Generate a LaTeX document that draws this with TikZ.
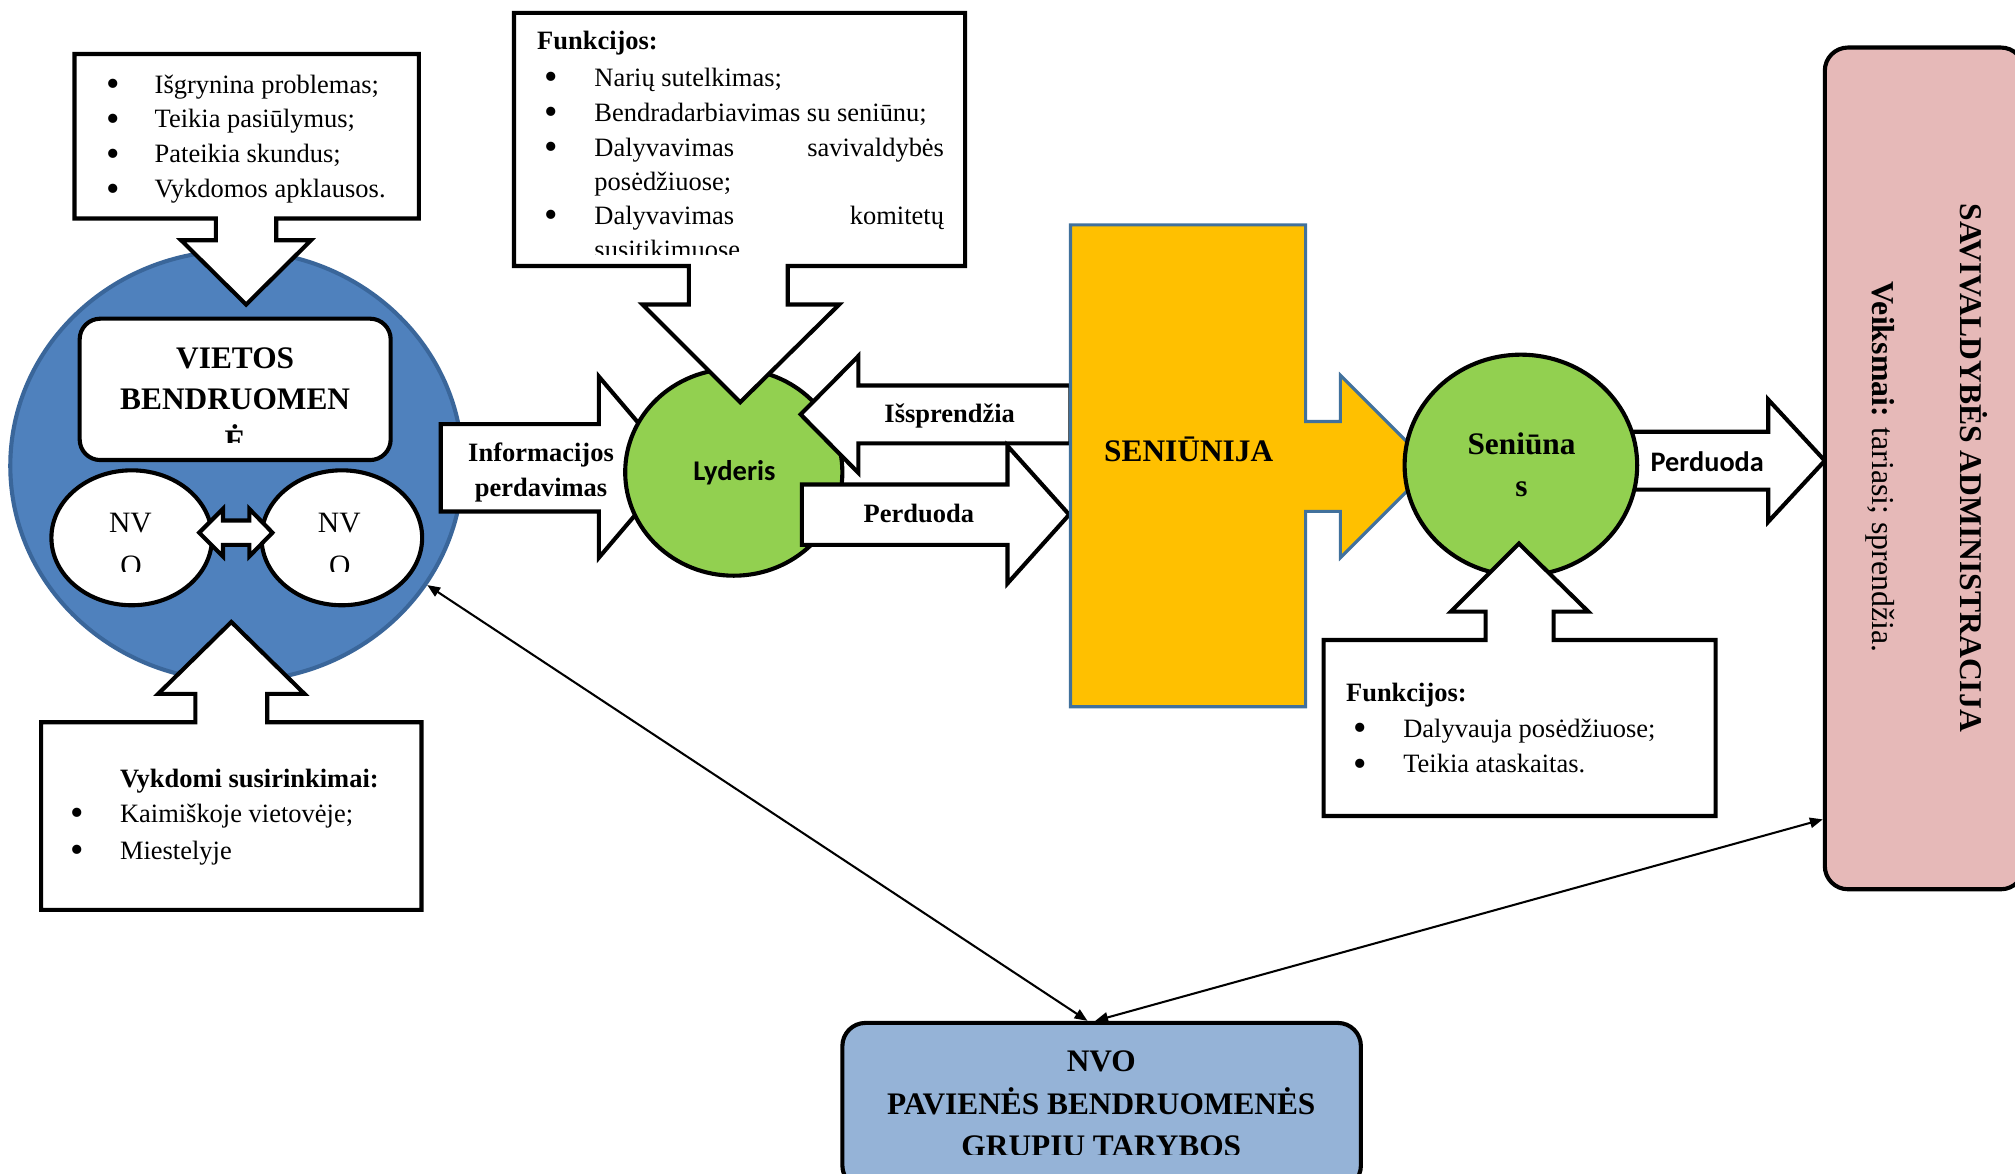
\documentclass[tikz,border=0pt]{standalone}
\usepackage{graphicx}
\usepackage{fontspec}
\setmainfont{Liberation Serif}
\newfontfamily\calib{Carlito}
\usetikzlibrary{shapes.geometric, arrows.meta, calc}
\definecolor{cblue}{HTML}{4F81BD}
\definecolor{cblueb}{HTML}{3A669A}
\definecolor{cgreen}{HTML}{92D050}
\definecolor{corange}{HTML}{FFC000}
\definecolor{corangeb}{HTML}{41719C}
\definecolor{cpink}{HTML}{E6B9B8}
\definecolor{cnvo}{HTML}{95B3D7}
\newcommand{\mybul}{\raisebox{-1.3pt}{\scalebox{1.45}{\textbullet}}}
\tikzset{
  blk/.style={draw=black, line width=1.6pt, fill=white, line join=miter, miter limit=10},
  tx/.style={inner sep=0pt, outer sep=0pt},
  body/.style={tx, font=\fontsize{10.3}{12}\selectfont},
  bbody/.style={tx, font=\fontsize{10.3}{12}\selectfont\bfseries},
  head/.style={tx, font=\fontsize{12.2}{14}\selectfont\bfseries},
  nvt/.style={tx, font=\fontsize{11.5}{13}\selectfont},
  sans/.style={tx, font=\calib\fontsize{11.1}{13}\selectfont\bfseries},
  oval/.style={ellipse, inner sep=0pt},
  conn/.style={line width=0.8pt, {Triangle[length=5pt,width=4pt]}-{Triangle[length=5pt,width=4pt]}},
}
\begin{document}
\begin{tikzpicture}[x=0.5pt, y=-0.5pt]
\useasboundingbox (0,0) rectangle (1568,913);
\clip (0,0) rectangle (1568,913);

% ---- Vietos bendruomene circle
\node[oval, fill=cblue, draw=cblueb, line width=1.6pt, minimum width=176pt, minimum height=167.5pt] (vb) at (184,362.5) {};
\node[blk, rounded corners=8pt, minimum width=121pt, minimum height=55pt, inner sep=0pt] (vbt) at (183,303) {};
\node[head, anchor=base] (vbt1) at (183,287) {VIETOS};
\node[head, anchor=base] (vbt2) at (183,319) {BENDRUOMEN};
\begin{scope}
  \clip (62,248) rectangle (304,344);
  \node[head, anchor=base] (vbt3) at (183,351) {Ė};
\end{scope}

% ---- NVO ellipses
\node[oval, blk, minimum width=62.5pt, minimum height=52.5pt] (nvoa) at (102.5,418.5) {};
\node[oval, blk, minimum width=62.5pt, minimum height=52.5pt] (nvob) at (266,418.5) {};
\node[nvt, anchor=base] (nvoa1) at (101.5,414) {NV};
\node[nvt, anchor=base] (nvob1) at (264,414) {NV};
\begin{scope}
  \clip (40,366) rectangle (330,445);
  \node[nvt, anchor=base] (nvoa2) at (102,448) {O};
  \node[nvt, anchor=base] (nvob2) at (264.5,448) {O};
\end{scope}
\draw[blk] (155,414.5) -- (173.5,396) -- (173.5,405) -- (194,405) -- (194,396) -- (212,414.5)
  -- (194,433) -- (194,424) -- (173.5,424) -- (173.5,433) -- cycle;

% ---- top-left callout
\draw[blk] (58,42) -- (326,42) -- (326,170) -- (215,170) -- (215,187) -- (242,187) -- (191.5,237)
  -- (141,187) -- (168,187) -- (168,170) -- (58,170) -- cycle;
\foreach \yy/\tt [count=\i] in {72.4/{Išgrynina problemas;}, 99.6/{Teikia pasiūlymus;}, 126.8/{Pateikia skundus;}, 154/{Vykdomos apklausos.}}{
  \node[body, anchor=base] (tlb\i) at (88,\yy) {\mybul};
  \node[body, anchor=base west] (tlt\i) at (120.4,\yy) {\tt};
}

% ---- bottom-left callout
\draw[blk] (32,562) -- (152,562) -- (152,540) -- (123,540) -- (180,484) -- (237,540) -- (208,540)
  -- (208,562) -- (328,562) -- (328,708) -- (32,708) -- cycle;
\node[bbody, anchor=base west] (blh) at (93.4,612.7) {Vykdomi susirinkimai:};
\node[body, anchor=base] (blb1) at (60,640) {\mybul};
\node[body, anchor=base west] (blt1) at (93.4,640) {Kaimiškoje vietovėje;};
\node[body, anchor=base] (blb2) at (60,668.6) {\mybul};
\node[body, anchor=base west] (blt2) at (93.4,668.6) {Miestelyje};

% ---- Informacijos perdavimas arrow
\draw[blk] (343,330) -- (466,330) -- (466,293) -- (526,363.5) -- (466,434) -- (466,398) -- (343,398) -- cycle;
\node[bbody, anchor=base] (ia1) at (421,359) {Informacijos};
\node[bbody, anchor=base] (ia2) at (421,386) {perdavimas};

% ---- Lyderis
\node[oval, draw=black, line width=1.6pt, fill=cgreen, minimum width=84.5pt, minimum height=80.5pt] (lyd) at (571,367.5) {};
\node[sans, anchor=base] (lydt) at (571.5,374) {Lyderis};

% ---- top-middle callout
\draw[blk] (400,10) -- (751,10) -- (751,207) -- (613,207) -- (613,237) -- (653,237) -- (576,313)
  -- (500,237) -- (536,237) -- (536,207) -- (400,207) -- cycle;
\node[bbody, anchor=base west] (tmh) at (418,38.7) {Funkcijos:};
\node[body, anchor=base] (tmb1) at (429,67) {\mybul};
\node[body, anchor=base west] (tmt1) at (462.6,67) {Narių sutelkimas;};
\node[body, anchor=base] (tmb2) at (429,94.5) {\mybul};
\node[body, anchor=base west] (tmt2) at (462.6,94.5) {Bendradarbiavimas su seniūnu;};
\node[body, anchor=base] (tmb3) at (429,121.5) {\mybul};
\node[body, anchor=base west] (tmt3a) at (462.6,121.5) {Dalyvavimas};
\node[body, anchor=base east] (tmt3b) at (734.6,121.5) {savivaldybės};
\node[body, anchor=base west] (tmt3c) at (462.6,148) {posėdžiuose;};
\node[body, anchor=base] (tmb4) at (429,174.5) {\mybul};
\node[body, anchor=base west] (tmt4a) at (462.6,174.5) {Dalyvavimas};
\node[body, anchor=base east] (tmt4b) at (734.6,174.5) {komitetų};
\begin{scope}
  \clip (400,180) rectangle (751,198);
  \node[body, anchor=base west] (tmt4c) at (462.6,201) {susitikimuose};
\end{scope}

% ---- Issprendzia / Perduoda
\draw[blk] (623,322.5) -- (668,277) -- (668,300) -- (833,300) -- (833,345) -- (668,345) -- (668,368) -- cycle;
\node[bbody, anchor=base] (ispt) at (739,329) {Išsprendžia};
\draw[blk] (624,377) -- (784,377) -- (784,347) -- (832,400.5) -- (784,454) -- (784,424) -- (624,424) -- cycle;
\node[bbody, anchor=base] (perdt) at (715,406.5) {Perduoda};

% ---- SENIUNIJA
\draw[fill=corange, draw=corangeb, line width=1.2pt, line join=miter] (833,175) -- (1016,175) -- (1016,328)
  -- (1043,328) -- (1043,292) -- (1114,363) -- (1043,434) -- (1043,398) -- (1016,398) -- (1016,550) -- (833,550) -- cycle;
\node[head, anchor=base] (sent) at (925,359) {SENIŪNIJA};

% ---- Perduoda right arrow
\draw[blk] (1265,336) -- (1376,336) -- (1376,311) -- (1420,358.5) -- (1376,406) -- (1376,381) -- (1265,381) -- cycle;
\node[sans, font=\calib\fontsize{11}{13}\selectfont\bfseries, anchor=base] (prt) at (1328.5,367) {Perduoda};

% ---- Seniunas
\node[oval, draw=black, line width=1.6pt, fill=cgreen, minimum width=90.5pt, minimum height=86pt] (snn) at (1183.5,362) {};
\node[head, anchor=base] (snn1) at (1184,354) {Seniūna};
\node[head, anchor=base] (snn2) at (1184,386.5) {s};

% ---- bottom-right callout
\draw[blk] (1030,498) -- (1156,498) -- (1156,476) -- (1129,476) -- (1182,423) -- (1236,476) -- (1209,476)
  -- (1209,498) -- (1335,498) -- (1335,635) -- (1030,635) -- cycle;
\node[bbody, anchor=base west] (brh) at (1047.5,546) {Funkcijos:};
\node[body, anchor=base] (brb1) at (1058.5,574) {\mybul};
\node[body, anchor=base west] (brt1) at (1092,574) {Dalyvauja posėdžiuose;};
\node[body, anchor=base] (brb2) at (1058.5,601.5) {\mybul};
\node[body, anchor=base west] (brt2) at (1092,601.5) {Teikia ataskaitas.};

% ---- Savivaldybes administracija
\node[draw=black, line width=1.6pt, fill=cpink, rounded corners=9pt, minimum width=77.5pt, minimum height=327.5pt, inner sep=0pt] (adm) at (1497.5,364.5) {};
\node[tx, font=\fontsize{12.3}{14}\selectfont\bfseries, anchor=base, rotate=-90] (admt) at (1525.5,364) {SAVIVALDYBĖS ADMINISTRACIJA};
\node[tx, font=\fontsize{12.4}{14}\selectfont, anchor=base, rotate=-90] (admv) at (1457,363.5) {\textbf{Veiksmai:} tariasi; sprendžia.};

% ---- NVO box
\node[draw=black, line width=1.6pt, fill=cnvo, rounded corners=9pt, minimum width=201.75pt, minimum height=64.5pt, inner sep=0pt] (nvo) at (857.25,860.5) {};
\node[head, anchor=base] (nvot1) at (857,834) {NVO};
\node[head, anchor=base] (nvot2) at (857,867) {PAVIENĖS BENDRUOMENĖS};
\begin{scope}
  \clip (660,870) rectangle (1055,898);
  \node[head, anchor=base] (nvot3) at (857,900) {GRUPIŲ TARYBOS};
\end{scope}

% ---- connectors
\coordinate (nvoL) at ($(nvo.north)+(-11,0)$);
\coordinate (nvoR) at ($(nvo.north)+(-5,0)$);
\coordinate (admL) at ($(adm.south west)+(0,-56)$);
\draw[conn] (vb.-32) -- (nvoL);
\draw[conn] (nvoR) -- (admL);
\end{tikzpicture}
\end{document}
